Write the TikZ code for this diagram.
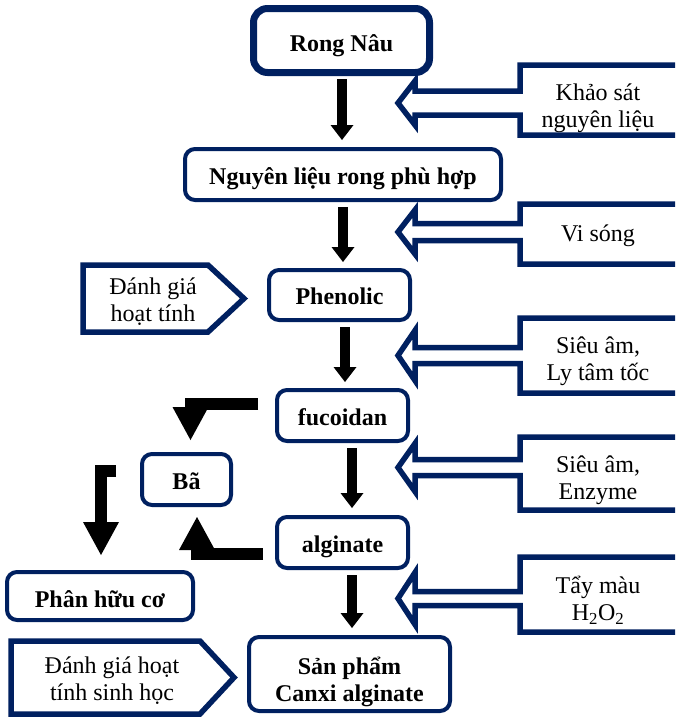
\documentclass[tikz,border=0pt]{standalone}
\usepackage{fontspec}
\setmainfont{Liberation Serif}
\usetikzlibrary{arrows.meta}
\definecolor{navy}{RGB}{0,32,96}

% right-hand "input" callout: box open to the right with a hollow arrow pointing left
% #1 top, #2 bottom, #3 arrow axis, #4 shaft half width, #5 barb half width
\newcommand\inputcallout[5]{%
  \draw[callline] (700,#1) -- (520,#1) -- (520,{#3-#4}) -- (415,{#3-#4})
    -- (415,{#3-#5}) -- (398,#3) -- (415,{#3+#5}) -- (415,{#3+#4})
    -- (520,{#3+#4}) -- (520,#2) -- (700,#2);}
% left-hand pentagon label pointing right
% #1 left, #2 top, #3 bottom, #4 start of point, #5 tip x
\newcommand\evalplate[5]{%
  \draw[callline] (#1,#2) -- (#4,#2) -- (#5,{(#2+#3)/2}) -- (#4,#3) -- (#1,#3) -- cycle;}

\begin{document}
\begin{tikzpicture}[x=1pt,y=-1pt,
  txt/.style={font=\fontsize{24}{27}\selectfont, align=center, inner sep=0pt},
  stepbox/.style={draw=navy, line width=4pt, rounded corners=10pt, fill=white,
    font=\fontsize{24}{27}\selectfont\bfseries, align=center, inner sep=0pt},
  oneline/.style={text height=21pt, text depth=2pt},
  lowline/.style={text height=22pt, text depth=0pt},
  callline/.style={draw=navy, line width=5.5pt, fill=white, line join=miter},
  downarrow/.style={draw=black, line width=10pt, line cap=butt,
    -{Triangle[width=23pt,length=15pt,line width=0pt]}},
  elbow/.style={draw=black, line width=12pt, line cap=butt, line join=miter,
    -{Triangle[width=36pt,length=33pt,line width=0pt]}}]
\clip (0,0) rectangle (675,720);
\fill[white] (0,0) rectangle (675,720);

% main process boxes
\node[stepbox, lowline, line width=7pt, rounded corners=14pt, minimum width=176pt, minimum height=64pt] (rong) at (341.5,40.5) {Rong Nâu};
\node[stepbox, oneline, minimum width=316pt, minimum height=51pt] (ngl) at (343,174.5) {Nguyên liệu rong phù hợp};
\node[stepbox, oneline, minimum width=141pt, minimum height=50pt] (phen) at (339.5,295) {Phenolic};
\node[stepbox, oneline, minimum width=131pt, minimum height=51pt] (fuc) at (342.5,415.5) {fucoidan};
\node[stepbox, oneline, minimum width=89pt, minimum height=51pt] (ba) at (186.5,479.5) {Bã};
\node[stepbox, oneline, minimum width=131pt, minimum height=51pt] (alg) at (342.5,542.5) {alginate};
\node[stepbox, lowline, minimum width=186pt, minimum height=48pt] (phan) at (100,596) {Phân hữu cơ};
\node[stepbox, minimum width=201pt, minimum height=74pt] (sp) at (349.5,674) {\rule{0pt}{34pt}Sản phẩm\\Canxi alginate};

% main flow
\draw[downarrow, shorten <=3pt, shorten >=7pt] ([xshift=0.5pt]rong.south) -- ([xshift=0.5pt]rong.south |- ngl.north);
\draw[downarrow, shorten <=5pt, shorten >=6pt] (ngl.south) -- (ngl.south |- phen.north);
\draw[downarrow, shorten <=5pt, shorten >=6pt] ([xshift=5.5pt]phen.south) -- ([xshift=5.5pt]phen.south |- fuc.north);
\draw[downarrow, shorten <=5pt, shorten >=7pt] ([xshift=9.5pt]fuc.south) -- ([xshift=9.5pt]fuc.south |- alg.north);
\draw[downarrow, shorten <=5pt, shorten >=7pt] ([xshift=9.5pt]alg.south) -- ([xshift=9.5pt]alg.south |- sp.north);

% residue branches
\draw[elbow, shorten <=17pt, shorten >=12pt] ([yshift=11.5pt]fuc.west) -| ([xshift=4pt]ba.north);
\draw[elbow, shorten <=24pt, shorten >=15pt] ([yshift=8.5pt]ba.west) -| ([xshift=1pt]phan.north);
\draw[elbow, shorten <=12pt, shorten >=10pt] ([yshift=-11.5pt]alg.west) -| ([xshift=10.5pt]ba.south);

% process inputs on the right
\inputcallout{65}{135}{103}{12}{22}
\node[txt] (khao) at (598,108) {Khảo sát\\nguyên liệu};
\inputcallout{204}{264}{232}{8.5}{22}
\node[txt] (visong) at (598,236) {Vi sóng};
\inputcallout{318}{393}{355.5}{8}{25}
\node[txt] (sieu1) at (598,361) {Siêu âm,\\Ly tâm tốc};
\inputcallout{437}{510}{467.5}{8}{24}
\node[txt] (sieu2) at (598,480) {Siêu âm,\\Enzyme};
\inputcallout{557}{632}{598.5}{7}{26}
\node[txt] (tay) at (598,600) {Tẩy màu\\H\textsubscript{2}O\textsubscript{2}};

% evaluation labels on the left
\evalplate{83}{265}{332}{208}{244}
\node[txt] (dg1) at (153,302) {Đánh giá\\hoạt tính};
\evalplate{11}{641}{714}{200}{234}
\node[txt] (dg2) at (112,681) {Đánh giá hoạt\\tính sinh học};
\end{tikzpicture}
\end{document}
